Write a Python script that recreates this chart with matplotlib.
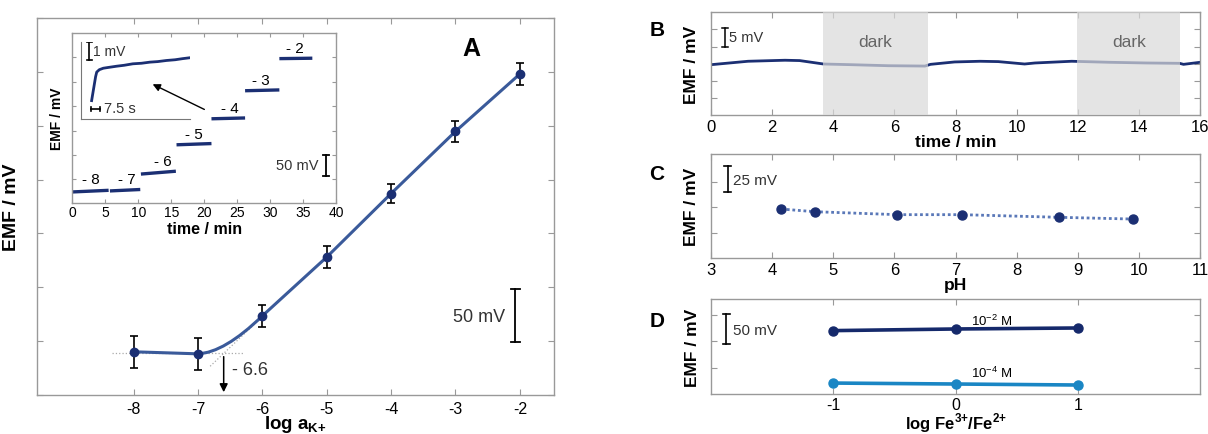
import matplotlib
matplotlib.use("Agg")
import matplotlib.pyplot as plt
import numpy as np
from matplotlib.path import Path
from matplotlib.patches import PathPatch

plt.rcParams['font.family'] = ['Liberation Sans', 'DejaVu Sans']
plt.rcParams['mathtext.fontset'] = 'custom'
plt.rcParams['mathtext.rm'] = 'Liberation Sans'
plt.rcParams['mathtext.bf'] = 'Liberation Sans:bold'
plt.rcParams['axes.unicode_minus'] = False

NAVY = '#1b2f73'
LINE_A = '#3a5a9a'
FRAME = '#999999'
TXT = '#333333'

# ---- panel A: calibration ----
log_a = [-8, -7, -6, -5, -4, -3, -2]
emf_a = [40.1, 38.2, 73.4, 128.0, 187.0, 244.7, 298.0]
err_a = [15, 15, 10, 10, 9, 10, 10]
det_limit = -6.6

# inset: step trace (time in min, EMF in mV) per activity step
step_labels = ['- 8', '- 7', '- 6', '- 5', '- 4', '- 3', '- 2']
step_t0 = [0.0, 5.7, 10.4, 15.8, 21.1, 26.2, 31.4]
step_t1 = [5.5, 10.3, 15.7, 21.1, 26.2, 31.4, 36.4]
step_v0 = [29.0, 31.5, 73.0, 145.0, 209.0, 278.0, 357.0]
step_v1 = [33.0, 35.0, 80.0, 148.0, 211.0, 280.0, 358.0]
lab_t = [2.8, 8.3, 13.8, 18.4, 23.9, 28.6, 33.8]
lab_v = [60, 60, 106, 171, 235, 305, 382]

# nested zoom: response (s, mV)
zoom_t = [8.8, 12.0, 12.9, 15.0, 18.2, 22.0, 29.0, 35.0, 42.0, 49.0, 55.7, 62.0, 69.0, 76.0, 82.0, 88.0]
zoom_v = [1.0, 2.3, 2.55, 2.68, 2.76, 2.8, 2.87, 2.92, 3.0, 3.03, 3.09, 3.12, 3.18, 3.22, 3.28, 3.33]

# ---- panel B: light / dark ----
time_b = [0, 1.21, 2.42, 2.9, 3.68, 4.59, 5.8, 7.0, 7.18, 7.97, 8.8, 9.4, 10.26, 10.6, 11.8, 13.04, 14.25, 15.33, 15.46, 16.0]
emf_b = [14.7, 15.7, 16.0, 15.9, 14.9, 14.7, 14.4, 14.3, 14.8, 15.5, 15.7, 15.6, 14.9, 15.2, 15.7, 15.4, 15.2, 15.1, 14.8, 15.4]
dark_start = [3.68, 11.98]
dark_end = [7.09, 15.36]

# ---- panel C: pH ----
ph = [4.15, 4.7, 6.05, 7.1, 8.7, 9.9]
emf_c = [48.0, 45.4, 42.5, 42.5, 39.9, 38.2]

# ---- panel D: redox ----
log_fe = [-1, 0, 1]
emf_d_hi = [120.1, 123.2, 125.1]
emf_d_lo = [20.7, 18.9, 17.0]


def frame(ax, color=FRAME):
    for s in ax.spines.values():
        s.set_color(color)
        s.set_linewidth(1.0)
    ax.tick_params(direction='in', top=True, right=True, color=color, length=4,
                   labelsize=11.5, pad=4)


def scalebar(ax, x, y0, y1, cap, lw=1.3):
    ax.plot([x, x], [y0, y1], color='k', lw=lw)
    ax.plot([x - cap, x + cap], [y0, y0], color='k', lw=lw)
    ax.plot([x - cap, x + cap], [y1, y1], color='k', lw=lw)


fig = plt.figure(figsize=(12.08, 4.35), dpi=100)

# ================= A =================
axA = fig.add_axes([0.0306, 0.0897, 0.428, 0.8667])
frame(axA)
axA.set_xlim(-9.5, -1.47)
axA.set_ylim(0, 350)
axA.set_xticks(log_a)
axA.set_yticks(np.arange(0, 351, 50))
axA.set_yticklabels([])
axA.set_ylabel('EMF / mV', fontsize=14, fontweight='bold', labelpad=8)
axA.set_xlabel(r'log a$_{\mathregular{K{+}}}$', fontsize=13.5, fontweight='bold', labelpad=-2)

# asymptotes
x = np.array(log_a)
y = np.array(emf_a)
base = np.mean(y[:2])
slope, icpt = np.polyfit(x[2:5], y[2:5], 1)
xc = (base - icpt) / slope
axA.plot([-8.33, -6.28], [base, base], ls=':', color='#aaaaaa', lw=0.9)
axA.plot([-6.81, -6.1], [slope * -6.81 + icpt, slope * -6.1 + icpt], ls=':', color='#aaaaaa', lw=0.9)

# fitted response: flat part, curved transition, linear part
verts = [(x[0], y[0]), (x[1], y[1]), (xc, base), (x[2], y[2])] + list(zip(x[3:], y[3:]))
codes = [Path.MOVETO, Path.LINETO, Path.CURVE3, Path.CURVE3] + [Path.LINETO] * (len(x) - 3)
axA.add_patch(PathPatch(Path(verts, codes), fill=False, edgecolor=LINE_A, lw=2.2, zorder=3))
axA.errorbar(log_a, emf_a, yerr=err_a, fmt='o', color=NAVY, ms=6, ecolor='k',
             elinewidth=1.2, capsize=3, capthick=1.2, zorder=4)

axA.annotate('', xy=(det_limit, 0), xytext=(det_limit, base - 1),
             arrowprops=dict(arrowstyle='-|>', color='k', lw=1.1, mutation_scale=12))
axA.text(-6.47, 24, '- 6.6', fontsize=13, color=TXT, va='center')
axA.text(-2.75, 322, 'A', fontsize=18, fontweight='bold', ha='center', va='center')
scalebar(axA, -2.07, 49, 98, 0.07)
axA.text(-2.63, 73, '50 mV', fontsize=13, color=TXT, ha='center', va='center')

# ---- inset ----
axI = fig.add_axes([0.0599, 0.5317, 0.2183, 0.3901])
frame(axI)
axI.tick_params(labelsize=10, length=3, pad=2)
axI.set_xlim(0, 40)
axI.set_ylim(2.5, 420)
axI.set_xticks(range(0, 41, 5))
axI.set_yticks(range(60, 361, 60))
axI.set_yticklabels([])
axI.set_xlabel('time / min', fontsize=11.5, fontweight='bold', labelpad=1)
axI.set_ylabel('EMF / mV', fontsize=10, fontweight='bold', labelpad=4)
for t0, t1, v0, v1, lab, lt, lv in zip(step_t0, step_t1, step_v0, step_v1, step_labels, lab_t, lab_v):
    axI.plot([t0, t1], [v0, v1], color=NAVY, lw=2.4, solid_capstyle='butt')
    axI.text(lt, lv, lab, fontsize=11, ha='center', va='center', color='k')
scalebar(axI, 38.5, 69, 120.5, 0.5)
axI.text(37.3, 96, '50 mV', fontsize=10.5, ha='right', va='center', color=TXT)
axI.annotate('', xy=(11.8, 297), xytext=(20.4, 229),
             arrowprops=dict(arrowstyle='-|>', color='k', lw=1.0, mutation_scale=11))

# ---- nested zoom ----
axZ = fig.add_axes([0.0668, 0.7241, 0.0905, 0.1777])
axZ.patch.set_alpha(0)
for s in ['top', 'right']:
    axZ.spines[s].set_visible(False)
for s in ['left', 'bottom']:
    axZ.spines[s].set_color('#777777')
axZ.set_xticks([])
axZ.set_yticks([])
axZ.set_xlim(0, 88)
axZ.set_ylim(0, 4.2)
axZ.plot(zoom_t, zoom_v, color=NAVY, lw=2.0)
scalebar(axZ, 7.0, 3.2, 4.2, 1.8, lw=1.2)
axZ.text(10.0, 3.7, '1 mV', fontsize=10, va='center', color=TXT)
axZ.plot([8.0, 15.5], [0.55, 0.55], color='k', lw=1.2)
axZ.plot([8.0, 8.0], [0.45, 0.65], color='k', lw=1.2)
axZ.plot([15.5, 15.5], [0.45, 0.65], color='k', lw=1.2)
axZ.text(19.0, 0.58, '7.5 s', fontsize=10.5, va='center', color=TXT)

# ================= B =================
axB = fig.add_axes([0.5886, 0.7333, 0.4048, 0.2361])
frame(axB)
axB.set_xlim(0, 16)
axB.set_ylim(0, 30)
axB.set_xticks(range(0, 17, 2))
axB.set_yticks(range(5, 30, 5))
axB.set_yticklabels([])
axB.tick_params(labelsize=12, pad=3)
axB.set_xlabel('time / min', fontsize=12.5, fontweight='bold', labelpad=0)
axB.set_ylabel('EMF / mV', fontsize=12.5, fontweight='bold', labelpad=6)
axB.plot(time_b, emf_b, color=NAVY, lw=2.0, zorder=2)
for d0, d1 in zip(dark_start, dark_end):
    axB.axvspan(d0, d1, color='#d9d9d9', alpha=0.7, lw=0, zorder=3)
    axB.text((d0 + d1) / 2, 21.6, 'dark', fontsize=12.5, color='#666666',
             ha='center', va='center', zorder=4)
scalebar(axB, 0.45, 20.0, 25.3, 0.1, lw=1.1)
axB.text(0.6, 22.7, '5 mV', fontsize=10.5, va='center', color=TXT)
fig.text(0.5438, 0.930, 'B', fontsize=15, fontweight='bold', ha='center', va='center')

# ================= C =================
axC = fig.add_axes([0.5886, 0.4046, 0.4048, 0.2391])
frame(axC)
axC.set_xlim(3, 11)
axC.set_ylim(0, 102)
axC.set_xticks(range(3, 12))
axC.set_yticks([25, 50, 75])
axC.set_yticklabels([])
axC.tick_params(labelsize=12, pad=3)
axC.set_xlabel('pH', fontsize=12.5, fontweight='bold', labelpad=0)
axC.set_ylabel('EMF / mV', fontsize=12.5, fontweight='bold', labelpad=6)
axC.plot(ph, emf_c, ls=(0, (1, 1)), color='#5a78b8', lw=2.0, zorder=2)
axC.plot(ph, emf_c, 'o', color=NAVY, ms=6.5, zorder=3)
scalebar(axC, 3.27, 64.7, 90, 0.06, lw=1.2)
axC.text(3.36, 76.8, '25 mV', fontsize=11, va='center', color=TXT)
fig.text(0.5438, 0.598, 'C', fontsize=15, fontweight='bold', ha='center', va='center')

# ================= D =================
axD = fig.add_axes([0.5886, 0.092, 0.4048, 0.2183])
frame(axD)
axD.set_xlim(-2, 2)
axD.set_ylim(0, 180)
axD.set_xticks(log_fe)
axD.set_yticks([50, 100, 150])
axD.set_yticklabels([])
axD.tick_params(labelsize=11.5, pad=2)
axD.set_xlabel(r'log Fe$^{\mathregular{3{+}}}$/Fe$^{\mathregular{2{+}}}$', fontsize=12,
               fontweight='bold', labelpad=-1)
axD.set_ylabel('EMF / mV', fontsize=12.5, fontweight='bold', labelpad=6)
axD.plot(log_fe, emf_d_hi, '-o', color='#15296b', lw=2.6, ms=6.5)
axD.plot(log_fe, emf_d_lo, '-o', color='#1a86c4', lw=2.6, ms=6.5)
axD.text(0.3, 139, r'10$^{\mathregular{-2}}$ M', fontsize=9.5, ha='center', va='center', color='k')
axD.text(0.3, 40, r'10$^{\mathregular{-4}}$ M', fontsize=9.5, ha='center', va='center', color='k')
scalebar(axD, -1.876, 94.5, 150.7, 0.03, lw=1.2)
axD.text(-1.82, 122, '50 mV', fontsize=11, va='center', color=TXT)
fig.text(0.5438, 0.262, 'D', fontsize=15, fontweight='bold', ha='center', va='center')

fig.savefig('out.png', dpi=100)
